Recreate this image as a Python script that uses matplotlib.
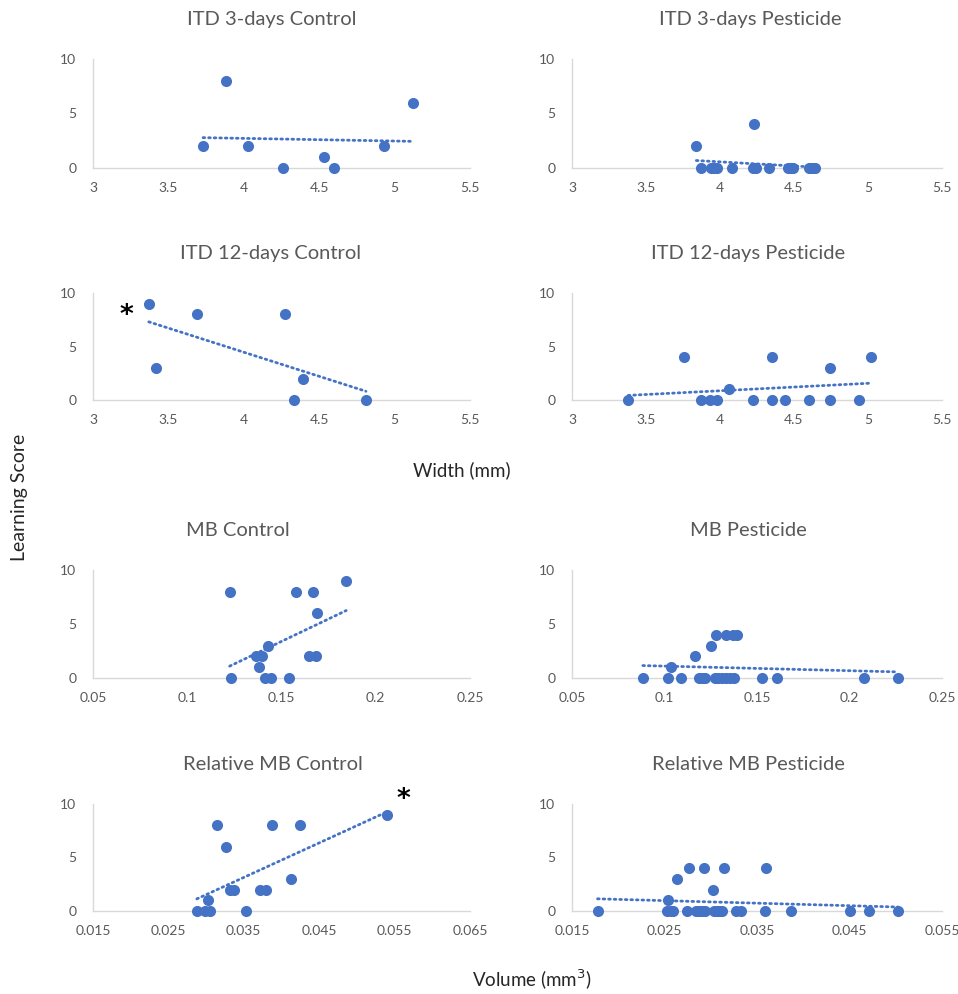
import numpy as np
import matplotlib
matplotlib.use("Agg")
import matplotlib.pyplot as plt

plt.rcParams["font.family"] = ["Lato", "DejaVu Sans"]

# ---- data ----
itd3_ctrl_x = [3.73, 3.88, 4.03, 4.26, 4.535, 4.60, 4.93, 5.12]
itd3_ctrl_y = [2, 8, 2, 0, 1, 0, 2, 6]

itd3_pest_x = [3.84, 3.87, 3.94, 3.96, 3.98, 4.08, 4.22, 4.23, 4.24, 4.33,
               4.46, 4.48, 4.49, 4.60, 4.62, 4.64]
itd3_pest_y = [2, 0, 0, 0, 0, 0, 0, 4, 0, 0, 0, 0, 0, 0, 0, 0]

itd12_ctrl_x = [3.37, 3.42, 3.69, 4.27, 4.33, 4.39, 4.81]
itd12_ctrl_y = [9, 3, 8, 8, 0, 2, 0]

itd12_pest_x = [3.38, 3.76, 3.87, 3.93, 3.98, 4.06, 4.22, 4.35, 4.35, 4.44,
                4.60, 4.74, 4.74, 4.94, 5.02]
itd12_pest_y = [0, 4, 0, 0, 0, 1, 0, 4, 0, 0, 0, 3, 0, 0, 4]

mb_ctrl_x = [0.1225, 0.123, 0.1367, 0.1379, 0.1395, 0.1411, 0.1427, 0.1443,
             0.1538, 0.1579, 0.1646, 0.1669, 0.1682, 0.1687, 0.1843]
mb_ctrl_y = [8, 0, 2, 1, 2, 0, 3, 0, 0, 8, 2, 8, 2, 6, 9]

mb_pest_x = [0.0883, 0.102, 0.1034, 0.109, 0.1167, 0.1184, 0.1202, 0.122,
             0.1251, 0.1272, 0.1278, 0.129, 0.1311, 0.1334, 0.1334, 0.1355,
             0.1369, 0.1378, 0.1392, 0.1528, 0.1609, 0.2078, 0.226]
mb_pest_y = [0, 0, 1, 0, 2, 0, 0, 0, 3, 0, 4, 0, 0, 0, 4, 0, 4, 0, 4, 0, 0, 0, 0]

rel_ctrl_x = [0.02877, 0.02983, 0.03023, 0.0305, 0.03146, 0.0327, 0.03315,
              0.03368, 0.0353, 0.03712, 0.038, 0.03875, 0.04122, 0.04242, 0.05398]
rel_ctrl_y = [0, 0, 1, 0, 8, 6, 2, 2, 0, 2, 2, 8, 3, 8, 9]

rel_pest_x = [0.01776, 0.02532, 0.02542, 0.02574, 0.02592, 0.02638, 0.02747,
              0.02765, 0.02836, 0.02871, 0.02906, 0.02927, 0.02942, 0.03023,
              0.0303, 0.03065, 0.03094, 0.03126, 0.03143, 0.03277, 0.0333,
              0.03589, 0.03595, 0.03868, 0.04501, 0.04716, 0.05027]
rel_pest_y = [0, 0, 1, 0, 0, 3, 0, 4, 0, 0, 0, 4, 0, 2,
              0, 0, 0, 0, 4, 0, 0, 0, 4, 0, 0, 0, 0]

width_ticks = [3, 3.5, 4, 4.5, 5, 5.5]
width_labels = ["3", "3.5", "4", "4.5", "5", "5.5"]
mb_ticks = [0.05, 0.1, 0.15, 0.2, 0.25]
mb_labels = ["0.05", "0.1", "0.15", "0.2", "0.25"]
relc_ticks = [0.015, 0.025, 0.035, 0.045, 0.055, 0.065]
relc_labels = ["0.015", "0.025", "0.035", "0.045", "0.055", "0.065"]
relp_ticks = [0.015, 0.025, 0.035, 0.045, 0.055]
relp_labels = ["0.015", "0.025", "0.035", "0.045", "0.055"]
y_ticks = [0, 5, 10]

BLUE = "#4472C4"
GRAY = "#595959"
W, H = 958, 994

fig = plt.figure(figsize=(W / 100, H / 100), dpi=100)


def add_panel(left, top, right, bottom, title, tcx, tcy, xs, ys, ticks, labels):
    ax = fig.add_axes([left / W, 1 - bottom / H, (right - left) / W, (bottom - top) / H])
    ax.scatter(xs, ys, s=64, color=BLUE, zorder=3, clip_on=False, linewidths=0)
    k, b = np.polyfit(xs, ys, 1)
    lx = np.array([min(xs), max(xs)])
    ax.plot(lx, k * lx + b, color=BLUE, lw=2.0, linestyle=(0, (0.6, 1.4)),
            dash_capstyle="round", zorder=2)
    ax.set_xlim(ticks[0], ticks[-1])
    ax.set_ylim(0, 10)
    ax.set_xticks(ticks)
    ax.set_xticklabels(labels)
    ax.set_yticks(y_ticks)
    for s in ["top", "right"]:
        ax.spines[s].set_visible(False)
    for s in ["left", "bottom"]:
        ax.spines[s].set_color("#D9D9D9")
        ax.spines[s].set_linewidth(1.0)
    ax.tick_params(length=0, labelsize=10, colors=GRAY, pad=12)
    ax.tick_params(axis="x", pad=10)
    ax.patch.set_alpha(0)
    fig.text(tcx / W, 1 - tcy / H, title, ha="center", va="center",
             fontsize=14.5, color=GRAY)
    return ax


RR = 942  # right edge of right-hand plots

add_panel(93, 59, 470, 168, "ITD 3-days Control", 272, 20,
          itd3_ctrl_x, itd3_ctrl_y, width_ticks, width_labels)
add_panel(572, 59, RR, 168, "ITD 3-days Pesticide", 750, 20,
          itd3_pest_x, itd3_pest_y, width_ticks, width_labels)
add_panel(93, 293, 470, 400, "ITD 12-days Control", 271, 254,
          itd12_ctrl_x, itd12_ctrl_y, width_ticks, width_labels)
add_panel(572, 293, RR, 400, "ITD 12-days Pesticide", 748, 254,
          itd12_pest_x, itd12_pest_y, width_ticks, width_labels)
add_panel(93, 570, 470, 678, "MB Control", 238, 530,
          mb_ctrl_x, mb_ctrl_y, mb_ticks, mb_labels)
add_panel(572, 570, RR, 678, "MB Pesticide", 748, 530,
          mb_pest_x, mb_pest_y, mb_ticks, mb_labels)
add_panel(93, 804, 470, 911, "Relative MB Control", 273, 764,
          rel_ctrl_x, rel_ctrl_y, relc_ticks, relc_labels)
add_panel(572, 804, RR, 911, "Relative MB Pesticide", 748, 764,
          rel_pest_x, rel_pest_y, relp_ticks, relp_labels)

# significance marks
fig.text(126 / W, 1 - 316 / H, "*", ha="center", va="center", fontsize=19,
         color="black", family="DejaVu Sans", fontweight="bold")
fig.text(403 / W, 1 - 800 / H, "*", ha="center", va="center", fontsize=19,
         color="black", family="DejaVu Sans", fontweight="bold")

fig.text(462 / W, 1 - 470 / H, "Width (mm)", ha="center", va="center",
         fontsize=13.5, color="#262626")
fig.text(532 / W, 1 - 980 / H, "Volume (mm$^3$)", ha="center", va="center",
         fontsize=13.5, color="#262626")
fig.text(20 / W, 1 - 497 / H, "Learning Score", ha="center", va="center",
         rotation=90, fontsize=14, color="#262626")

fig.savefig("out.png", dpi=100)
